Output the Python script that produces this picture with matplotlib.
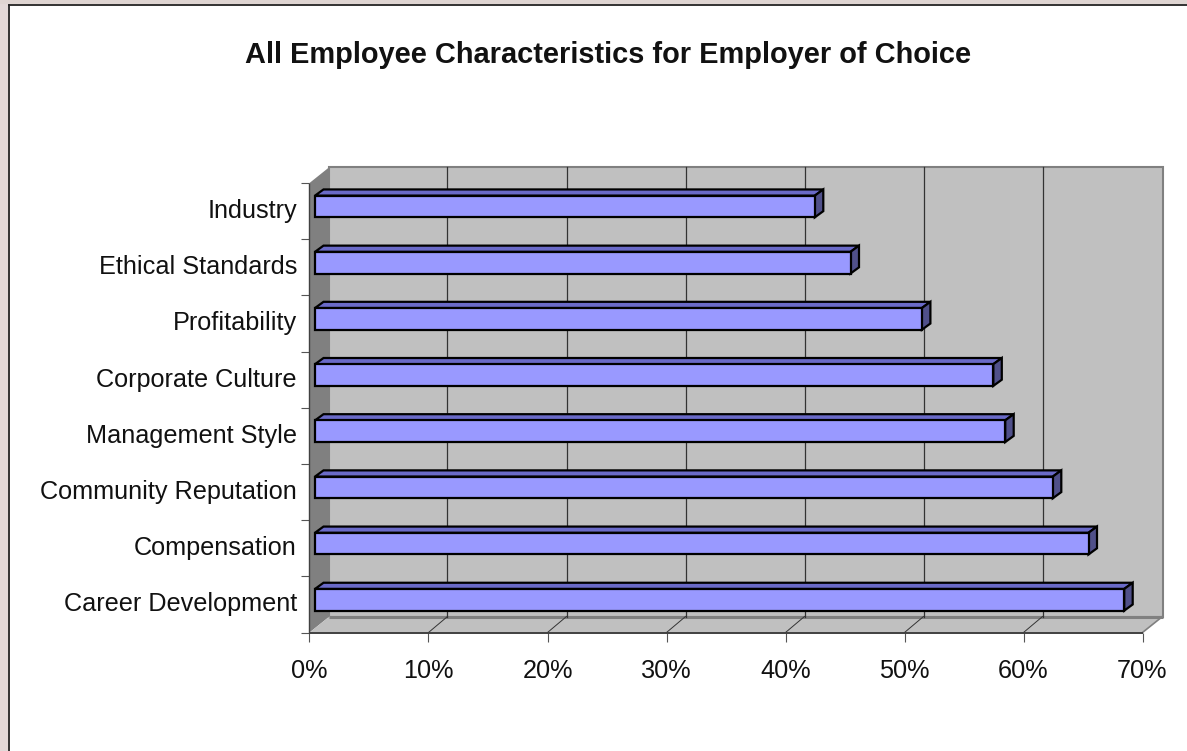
import matplotlib
matplotlib.use("Agg")
import matplotlib.pyplot as plt
from matplotlib.patches import Polygon, Rectangle

plt.rcParams['font.family'] = ['Liberation Sans', 'DejaVu Sans']

TITLE = "All Employee Characteristics for Employer of Choice"
categories = ["Career Development", "Compensation", "Community Reputation",
              "Management Style", "Corporate Culture", "Profitability",
              "Ethical Standards", "Industry"]
values = [68, 65, 62, 58, 57, 51, 45, 42]
x_ticks = [0, 10, 20, 30, 40, 50, 60, 70]
x_labels = [f"{v}%" for v in x_ticks]

W, H = 1187, 751
fig = plt.figure(figsize=(W / 100, H / 100), dpi=100, facecolor="white")


def box(l, t, r, b):
    return [l / W, 1 - b / H, (r - l) / W, (b - t) / H]


# page backdrop strips and chart frame
fig.patches.append(Rectangle((0, 0), 8 / W, 1, transform=fig.transFigure, fc="#e3d9d8", ec="none"))
fig.patches.append(Rectangle((0, 1 - 4 / H), 1, 4 / H, transform=fig.transFigure, fc="#dfd5d2", ec="none"))
fig.add_artist(plt.Line2D([8.5 / W, 8.5 / W], [0, 1 - 4.5 / H], transform=fig.transFigure, color="#222222", lw=1.3))
fig.add_artist(plt.Line2D([8.5 / W, 1], [1 - 4.5 / H, 1 - 4.5 / H], transform=fig.transFigure, color="#222222", lw=1.3))

FRONT_L, FRONT_R, FRONT_T, FRONT_B = 309.5, 1142.5, 183.0, 632.5
ax = fig.add_axes(box(FRONT_L, FRONT_T, FRONT_R, FRONT_B))
ax.set_xlim(0, 70)
ax.set_ylim(-0.5, len(categories) - 0.5)
ax.patch.set_alpha(0)
for s in ax.spines.values():
    s.set_visible(False)

# pixel-to-data scale factors for the pseudo-3D depth
px_x = 70 / (FRONT_R - FRONT_L)
px_y = len(categories) / (FRONT_B - FRONT_T)
DX, DY = 20 * px_x, 16 * px_y
GRID_DX = 19 * px_x
x0, x1 = 0, 70
y0, y1 = -0.5, len(categories) - 0.5


def poly(pts, fc, ec="none", lw=0.0, z=1, **kw):
    ax.add_patch(Polygon(pts, closed=True, fc=fc, ec=ec, lw=lw, zorder=z, clip_on=False,
                         joinstyle="miter", **kw))


# back wall, side wall, floor
poly([(x0 + DX, y0 + DY), (x1 + DX, y0 + DY), (x1 + DX, y1 + DY), (x0 + DX, y1 + DY)], "#c0c0c0", "#808080", 1.5, 1)
poly([(x0, y0), (x0 + DX, y0 + DY), (x0 + DX, y1 + DY), (x0, y1)], "#808080", "none", 0, 1.5)
poly([(x0, y0), (x1, y0), (x1 + DX, y0 + DY), (x0 + DX, y0 + DY)], "#c0c0c0", "none", 0, 1.5)
ax.plot([x0 + DX, x1 + DX], [y0 + DY, y0 + DY], color="#808080", lw=2.2, zorder=1.7, clip_on=False,
        solid_capstyle="butt")
ax.plot([x1, x1 + DX], [y0, y0 + DY], color="#808080", lw=1.2, zorder=1.7, clip_on=False)

# gridlines on wall and floor
for t in x_ticks[1:-1]:
    ax.plot([t + GRID_DX, t + GRID_DX], [y0 + DY, y1 + DY], color="#333333", lw=0.9, zorder=2, clip_on=False)
    ax.plot([t, t + GRID_DX], [y0, y0 + DY], color="#333333", lw=0.7, zorder=2, clip_on=False)

# front axis lines
ax.plot([x0, x1], [y0, y0], color="#404040", lw=1.4, zorder=3, clip_on=False, solid_capstyle="butt")
ax.plot([x0, x0], [y0, y1], color="#404040", lw=1.0, zorder=3, clip_on=False, solid_capstyle="butt")

# bars
BAR_X, BAR_Y = 5.5 * px_x, 4.6 * px_y
BAR_H = 21.7 * px_y
SX, SY = 8.5 * px_x, 6.2 * px_y
for i, v in enumerate(values):
    l = BAR_X
    r = BAR_X + v
    b = i + BAR_Y - BAR_H / 2
    t = i + BAR_Y + BAR_H / 2
    poly([(l, t), (r, t), (r + SX, t + SY), (l + SX, t + SY)], "#6a6ac8", "black", 1.6, 4)
    poly([(r, b), (r + SX, b + SY), (r + SX, t + SY), (r, t)], "#50508a", "black", 1.6, 4)
    poly([(l, b), (r, b), (r, t), (l, t)], "#9999ff", "black", 1.6, 5)

# ticks: major ticks on category boundaries, labels on minor ticks at the centres
ax.set_yticks([i - 0.5 for i in range(len(categories) + 1)])
ax.set_yticklabels([])
ax.set_yticks(range(len(categories)), labels=categories, minor=True)
ax.tick_params(axis="y", which="major", length=8.5 * 0.72, width=0.8, color="#555555")
ax.tick_params(axis="y", which="minor", length=0, pad=9, labelsize=18.2, labelcolor="#111111")
for lab in ax.get_yticklabels(minor=True):
    lab.set_verticalalignment("center")
ax.set_xticks(x_ticks, labels=x_labels)
ax.tick_params(axis="x", length=8.5 * 0.72, width=0.8, color="#555555", pad=13, labelsize=18.2, labelcolor="#111111")

fig.text(608 / W, 1 - 55 / H, TITLE, ha="center", va="center", fontsize=20.9, fontweight="bold", color="#111111")

fig.savefig("out.png", dpi=100, facecolor="white")
